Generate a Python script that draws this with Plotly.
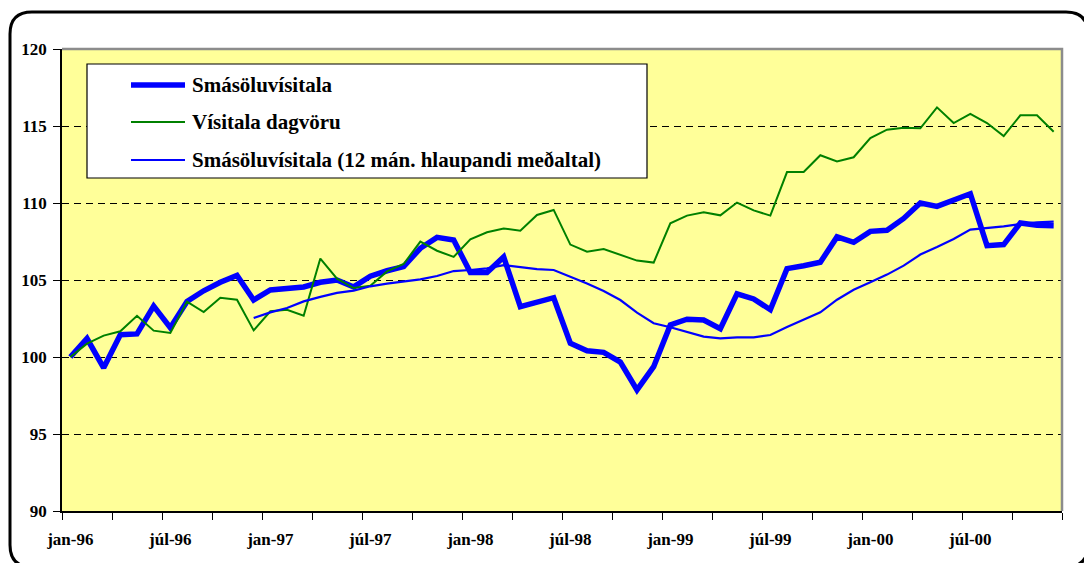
import plotly.graph_objects as go

# ---------------- data ----------------
month_names = ["jan", "feb", "mar", "apr", "maí", "jún", "júl", "ágú", "sep", "okt", "nóv", "des"]
years = ["96", "97", "98", "99", "00"]
categories = [f"{m}-{y}" for y in years for m in month_names]

smasoluvisitala = [100.0, 101.2, 99.3, 101.45, 101.5, 103.3, 101.9, 103.6, 104.3, 104.85,
                   105.3, 103.7, 104.35, 104.45, 104.55, 104.85, 105.0, 104.55, 105.25, 105.6,
                   105.87, 107.06, 107.77, 107.6, 105.48, 105.48, 106.5, 103.27, 103.6, 103.85,
                   100.9, 100.41, 100.3, 99.67, 97.86, 99.37, 102.08, 102.45, 102.4, 101.84,
                   104.1, 103.77, 103.07, 105.74, 105.93, 106.15, 107.8, 107.45, 108.16, 108.23,
                   109.0, 110.0, 109.78, 110.15, 110.6, 107.23, 107.3, 108.7, 108.55, 108.53]

visitala_dagvoru = [100.0, 100.87, 101.39, 101.67, 102.68, 101.71, 101.56, 103.6, 102.92, 103.85,
                    103.72, 101.73, 102.97, 103.07, 102.68, 106.39, 105.09, 104.48, 104.63, 105.56,
                    106.04, 107.49, 106.9, 106.5, 107.64, 108.1, 108.35, 108.2, 109.22, 109.55,
                    107.3, 106.84, 107.01, 106.65, 106.26, 106.13, 108.68, 109.18, 109.39, 109.2,
                    110.03, 109.52, 109.18, 112.01, 112.01, 113.1, 112.7, 112.97, 114.22, 114.76,
                    114.88, 114.85, 116.21, 115.19, 115.78, 115.19, 114.35, 115.69, 115.69, 114.63]

hlaupandi_medaltal = [None, None, None, None, None, None, None, None, None, None,
                      None, 102.53, 102.9, 103.18, 103.61, 103.9, 104.16, 104.31, 104.59, 104.76,
                      104.89, 105.04, 105.26, 105.58, 105.65, 105.76, 105.97, 105.82, 105.71, 105.65,
                      105.22, 104.78, 104.29, 103.7, 102.88, 102.19, 101.93, 101.65, 101.32, 101.21,
                      101.27, 101.28, 101.43, 101.95, 102.42, 102.9, 103.72, 104.37, 104.85, 105.35,
                      105.93, 106.65, 107.14, 107.66, 108.27, 108.38, 108.48, 108.64, 108.74, 108.79]

series_names = ["Smásöluvísitala", "Vísitala dagvöru", "Smásöluvísitala (12 mán. hlaupandi meðaltal)"]
label_step = 6
y_ticks = [90, 95, 100, 105, 110, 115, 120]

# ---------------- figure ----------------
W, H = 1084, 563
ML, MR, MT, MB = 62, 22, 49, 52
PW, PH = W - ML - MR, H - MT - MB


def px(x):
    return (x - ML) / PW


def py(y):
    return (H - MB - y) / PH


FONT = "Times New Roman, Liberation Serif, Tinos, serif"
x_idx = list(range(len(categories)))

fig = go.Figure()
fig.add_trace(go.Scatter(x=x_idx, y=smasoluvisitala, mode="lines", name=series_names[0],
                         line=dict(color="#0000FF", width=5.5), showlegend=False))
fig.add_trace(go.Scatter(x=x_idx, y=visitala_dagvoru, mode="lines", name=series_names[1],
                         line=dict(color="#008000", width=2), showlegend=False))
fig.add_trace(go.Scatter(x=x_idx, y=hlaupandi_medaltal, mode="lines", name=series_names[2],
                         line=dict(color="#0000FF", width=2.2), showlegend=False))

tickvals = x_idx[::label_step]
ticktext = categories[::label_step]

fig.update_xaxes(range=[-0.5, len(categories) - 0.5], tickmode="array", tickvals=tickvals,
                 ticktext=ticktext, ticks="", showgrid=False, zeroline=False,
                 showline=True, linecolor="#000000", linewidth=1.5,
                 tickfont=dict(family=FONT, size=17, color="black", weight="bold"),
                 ticklabelstandoff=12,
                 minor=dict(tick0=-0.5, dtick=3, ticks="outside", ticklen=7,
                            tickcolor="#000000", tickwidth=1, showgrid=False))
fig.update_yaxes(range=[90, 120], tickmode="array", tickvals=y_ticks, ticks="outside",
                 ticklen=7, tickcolor="#000000", tickwidth=1,
                 showgrid=True, gridcolor="#000000", gridwidth=1, griddash="7px,5px",
                 zeroline=False, showline=True, linecolor="#000000", linewidth=1.5,
                 tickfont=dict(family=FONT, size=17, color="black", weight="bold"),
                 ticklabelstandoff=3)

shapes = []
# top/right plot-area border (grey)
shapes.append(dict(type="path", xref="paper", yref="paper",
                   path="M 0,1 L 1,1 L 1,0", line=dict(color="#8c8c8c", width=2.5), layer="above"))

# outer rounded frame
x0, y0, x1, y1, r = 10, 12, 1088, 567, 22
def P(x, y):
    return f"{px(x):.5f},{py(y):.5f}"
frame = (f"M {P(x0 + r, y0)} L {P(x1 - r, y0)} Q {P(x1, y0)} {P(x1, y0 + r)} "
         f"L {P(x1, y1 - r)} Q {P(x1, y1)} {P(x1 - r, y1)} L {P(x0 + r, y1)} "
         f"Q {P(x0, y1)} {P(x0, y1 - r)} L {P(x0, y0 + r)} Q {P(x0, y0)} {P(x0 + r, y0)} Z")
shapes.append(dict(type="path", xref="paper", yref="paper", path=frame,
                   line=dict(color="#000000", width=3), layer="below"))

# legend box
shapes.append(dict(type="rect", xref="paper", yref="paper",
                   x0=px(87), x1=px(647), y0=py(178), y1=py(64),
                   fillcolor="white", line=dict(color="#000000", width=1.2), layer="above"))

legend_rows = [85, 122, 160]
legend_styles = [dict(color="#0000FF", width=5.5), dict(color="#008000", width=2),
                 dict(color="#0000FF", width=2.2)]
annotations = []
for name, yrow, st in zip(series_names, legend_rows, legend_styles):
    shapes.append(dict(type="line", xref="paper", yref="paper", x0=px(131), x1=px(185),
                       y0=py(yrow), y1=py(yrow), line=st, layer="above"))
    annotations.append(dict(x=px(190), y=py(yrow), xref="paper", yref="paper", text=name,
                            showarrow=False, xanchor="left", yanchor="middle",
                            font=dict(family=FONT, size=21, color="black", weight="bold")))

fig.update_layout(width=W, height=H, margin=dict(l=ML, r=MR, t=MT, b=MB, pad=0),
                  paper_bgcolor="white", plot_bgcolor="#FFFF99",
                  shapes=shapes, annotations=annotations, showlegend=False)

fig.write_html("out.html", config={"displayModeBar": False},
               post_script="document.body.style.margin='0px';")
